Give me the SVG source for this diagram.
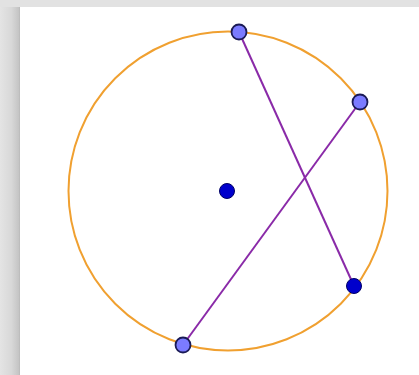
<svg xmlns="http://www.w3.org/2000/svg" width="419" height="375" viewBox="0 0 419 375">
<defs>
<linearGradient id="lg" x1="0" y1="0" x2="1" y2="0">
<stop offset="0" stop-color="#e4e4e4"/>
<stop offset="0.6" stop-color="#d8d8d8"/>
<stop offset="1" stop-color="#c4c4c4"/>
</linearGradient>
<style>
.seg{stroke:#8a2aa8;stroke-width:2;fill:none}
.free{fill:#7b7bff;stroke:#1a1a55;stroke-width:1.8}
.dep{fill:#0000cc;stroke:#000066;stroke-width:1}
</style>
</defs>
<rect x="0" y="0" width="419" height="375" fill="#e2e2e2"/>
<rect x="0" y="7" width="19" height="368" fill="url(#lg)"/>
<rect x="19" y="7" width="400" height="368" fill="#ffffff"/>
<line x1="19.5" y1="7" x2="19.5" y2="375" stroke="#bdbdbd" stroke-width="1"/>
<g id="circle"><circle cx="228" cy="191" r="159.5" fill="none" stroke="#f0a030" stroke-width="2"/></g>
<g id="connectors">
<line class="seg" x1="239" y1="32" x2="354" y2="286"/>
<line class="seg" x1="360" y1="102" x2="183" y2="345"/>
</g>
<g id="center"><circle class="dep" cx="227" cy="191" r="7.5"/></g>
<g id="A"><circle class="free" cx="239" cy="32" r="7.5"/></g>
<g id="B"><circle class="free" cx="360" cy="102" r="7.5"/></g>
<g id="C"><circle class="dep" cx="354" cy="286" r="7.5"/></g>
<g id="D"><circle class="free" cx="183" cy="345" r="7.5"/></g>
</svg>
